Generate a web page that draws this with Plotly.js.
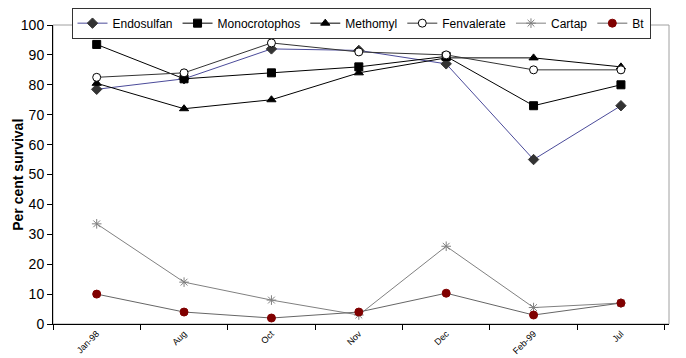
<!DOCTYPE html>
<html>
<head>
<meta charset="utf-8">
<script src="https://cdn.plot.ly/plotly-3.0.1.min.js"></script>
<style>
  html, body { margin: 0; padding: 0; background: #fff; }
  #chart { width: 686px; height: 358px; }
</style>
</head>
<body>
<div id="chart"></div>
<script>
// Sampling dates
const months = ["Jan-98", "Aug", "Oct", "Nov", "Dec", "Feb-99", "Jul"];

// Per cent survival for each treatment
const endosulfan    = [78.5, 82, 92, 91.5, 87, 55, 73];
const monocrotophos = [93.5, 82, 84, 86, 89.5, 73, 80];
const methomyl      = [80.5, 72, 75, 84, 89, 89, 86];
const fenvalerate   = [82.5, 84, 94, 91, 90, 85, 85];
const cartap        = [33.5, 14, 8, 3, 26, 5.5, 7];
const bt            = [10, 4, 2, 4, 10.3, 3, 7];

const yTicks = [0, 10, 20, 30, 40, 50, 60, 70, 80, 90, 100];

function series(name, y, lineColor, symbol, mColor, mLine, size) {
  return {
    type: "scatter", mode: "lines+markers", name: name,
    x: months, y: y,
    line: { color: lineColor, width: 1 },
    marker: { symbol: symbol, size: size, color: mColor,
              line: { color: mLine, width: 1 } }
  };
}

const data = [
  series("Endosulfan", endosulfan, "#4b4b9a", "diamond", "#333333", "#333333", 8),
  series("Monocrotophos", monocrotophos, "#000000", "square", "#000000", "#000000", 8),
  series("Methomyl", methomyl, "#000000", "triangle-up", "#000000", "#000000", 8),
  series("Fenvalerate", fenvalerate, "#333333", "circle", "#ffffff", "#000000", 8),
  series("Cartap", cartap, "#808080", "asterisk-open", "#808080", "#808080", 8),
  series("Bt", bt, "#666666", "circle", "#800000", "#800000", 8)
];

const layout = {
  width: 686, height: 358,
  margin: { l: 53, r: 17, t: 25, b: 34, autoexpand: false },
  paper_bgcolor: "#ffffff", plot_bgcolor: "#ffffff",
  font: { family: "Liberation Sans, Arial, sans-serif", color: "#000" },
  showlegend: true,
  legend: {
    orientation: "h", x: 0.5, xanchor: "center", y: 1.058, yanchor: "top",
    bordercolor: "#333333", borderwidth: 1, bgcolor: "#ffffff",
    font: { size: 12, color: "#000" }, itemwidth: 30,
    tracegroupgap: 0
  },
  xaxis: {
    type: "category", categoryarray: months,
    range: [-0.5, 6.55],
    showline: true, linecolor: "#000", linewidth: 1,
    ticks: "outside", ticklen: 5, tickcolor: "#000", tickson: "boundaries",
    tickangle: -45, tickfont: { size: 9 },
    showgrid: false, zeroline: false
  },
  yaxis: {
    range: [0, 100], tickvals: yTicks,
    showline: true, linecolor: "#000", linewidth: 1,
    ticks: "outside", ticklen: 5, tickcolor: "#000",
    tickfont: { size: 14 },
    showgrid: false, zeroline: false
  },
  annotations: [{
    text: "<b>Per cent survival</b>", textangle: -90,
    xref: "paper", yref: "paper", x: -0.058, y: 0.5,
    xanchor: "center", yanchor: "middle", showarrow: false,
    font: { size: 14, color: "#000" }
  }],
  shapes: [{
    type: "rect", xref: "paper", yref: "paper", x0: 0, x1: 1, y0: 0, y1: 1,
    line: { color: "#a0a0a0", width: 1 }, layer: "below"
  }]
};

Plotly.newPlot("chart", data, layout, { displayModeBar: false, staticPlot: true });
</script>
</body>
</html>
